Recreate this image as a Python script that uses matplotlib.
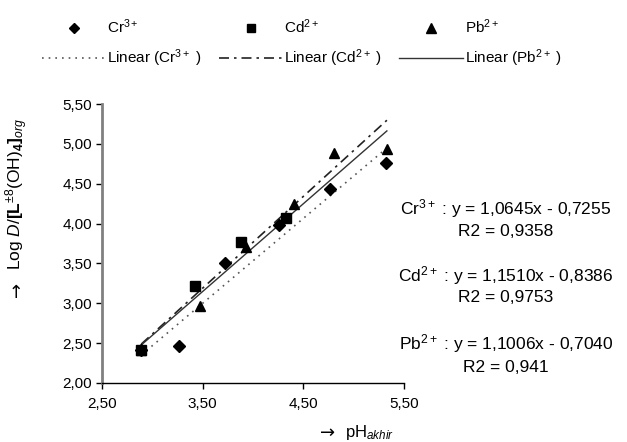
import matplotlib
matplotlib.use("Agg")
import matplotlib.pyplot as plt
import numpy as np
from matplotlib.ticker import FuncFormatter, FixedLocator
from matplotlib.lines import Line2D

plt.rcParams['font.family'] = ['Liberation Sans', 'DejaVu Sans']
plt.rcParams['mathtext.fontset'] = 'custom'
plt.rcParams['mathtext.rm'] = 'Liberation Sans'
plt.rcParams['mathtext.it'] = 'Liberation Sans:italic'
plt.rcParams['mathtext.bf'] = 'Liberation Sans:bold'

# Data
cr_x = [2.89, 3.26, 3.72, 4.26, 4.76, 5.32]
cr_y = [2.41, 2.46, 3.51, 3.98, 4.43, 4.76]
cd_x = [2.89, 3.42, 3.88, 4.33]
cd_y = [2.41, 3.22, 3.77, 4.07]
pb_x = [2.89, 3.47, 3.93, 4.41, 4.80, 5.33]
pb_y = [2.41, 2.97, 3.71, 4.25, 4.89, 4.93]

# Trendline coefficients (slope, intercept) and R2
cr_fit = (1.0645, -0.7255)
cd_fit = (1.1510, -0.8386)
pb_fit = (1.1006, -0.7040)
fit_range = [2.89, 5.33]
eq_texts = ["Cr$^{3+}$ : y = 1,0645x - 0,7255", "R2 = 0,9358",
            "Cd$^{2+}$ : y = 1,1510x - 0,8386", "R2 = 0,9753",
            "Pb$^{2+}$ : y = 1,1006x - 0,7040", "R2 = 0,941"]

x_ticks = [2.5, 3.5, 4.5, 5.5]
y_ticks = [2.0, 2.5, 3.0, 3.5, 4.0, 4.5, 5.0, 5.5]

W, H = 627, 442
fig = plt.figure(figsize=(W / 100, H / 100), dpi=100)
ax = fig.add_axes([102 / W, 1 - 383 / H, (404 - 102) / W, (383 - 104) / H])

fx = np.array(fit_range)
ax.plot(fx, cr_fit[0] * fx + cr_fit[1], color='#555555', lw=1.2, linestyle=(0, (1, 3)))
ax.plot(fx, cd_fit[0] * fx + cd_fit[1], color='#222222', lw=1.2, linestyle=(0, (6, 3, 1.5, 3)))
ax.plot(fx, pb_fit[0] * fx + pb_fit[1], color='#333333', lw=1.0, linestyle='-')

ax.plot(cr_x, cr_y, linestyle='none', marker='D', markersize=6, color='black')
ax.plot(cd_x, cd_y, linestyle='none', marker='s', markersize=7, color='black')
ax.plot(pb_x, pb_y, linestyle='none', marker='^', markersize=7.5, color='black')

ax.set_xlim(2.5, 5.5)
ax.set_ylim(2.0, 5.5)
ax.xaxis.set_major_locator(FixedLocator(x_ticks))
ax.yaxis.set_major_locator(FixedLocator(y_ticks))
fmt = FuncFormatter(lambda v, p: f"{v:.2f}".replace('.', ','))
ax.xaxis.set_major_formatter(fmt)
ax.yaxis.set_major_formatter(fmt)
for s in ['top', 'right']:
    ax.spines[s].set_visible(False)
ax.spines['left'].set_color('#808080')
ax.spines['left'].set_linewidth(2)
ax.spines['bottom'].set_color('black')
ax.spines['bottom'].set_linewidth(1)
ax.tick_params(axis='both', direction='out', length=4, width=1, labelsize=11, colors='black')
ax.tick_params(axis='y', pad=3)
ax.tick_params(axis='x', pad=6)

# Legend
handles = [
    Line2D([], [], linestyle='none', marker='D', markersize=5, color='black'),
    Line2D([], [], color='#555555', lw=1.2, linestyle=(0, (1, 3))),
    Line2D([], [], linestyle='none', marker='s', markersize=6, color='black'),
    Line2D([], [], color='#222222', lw=1.2, linestyle=(0, (6, 3, 1.5, 3))),
    Line2D([], [], linestyle='none', marker='^', markersize=6.5, color='black'),
    Line2D([], [], color='#333333', lw=1.0),
]
labels = ["Cr$^{3+}$", "Linear (Cr$^{3+}$ )", "Cd$^{2+}$", "Linear (Cd$^{2+}$ )",
          "Pb$^{2+}$", "Linear (Pb$^{2+}$ )"]
fig.legend(handles, labels, ncol=3, loc='upper left', bbox_to_anchor=(28 / W, 1 - 4 / H),
           frameon=False, fontsize=11, handlelength=4.2, handletextpad=0.1,
           columnspacing=1.1, labelspacing=0.75)

# Equations
ys = [209, 231, 276, 298, 344, 368]
for t, yy in zip(eq_texts, ys):
    fig.text(506 / W, 1 - yy / H, t, ha='center', va='center', fontsize=12.5)

# Axis titles (arrow drawn in DejaVu Sans for a full-size glyph)
fig.text(17 / W, 1 - 297 / H, "\u2192", family='DejaVu Sans', rotation=90,
         ha='center', va='bottom', fontsize=13)
fig.text(17 / W, 1 - 270 / H,
         "Log $\\mathit{D}$/$\\mathbf{[L}^{\\pm8}$(OH)$_{\\mathbf{4}}\\mathbf{]}_{org}$",
         rotation=90, ha='center', va='bottom', fontsize=12.5)
fig.text(320 / W, 1 - 433 / H, "\u2192", family='DejaVu Sans',
         ha='left', va='center', fontsize=13)
fig.text(345 / W, 1 - 433 / H, "pH$_{akhir}$", ha='left', va='center', fontsize=12)

fig.savefig("out.png", dpi=100)
